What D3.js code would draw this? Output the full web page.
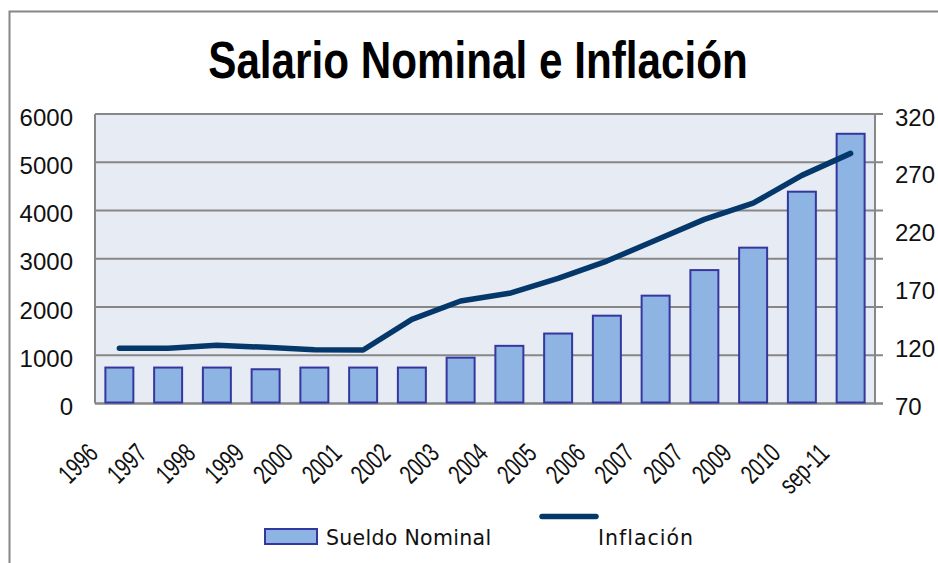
<!DOCTYPE html>
<html><head><meta charset="utf-8">
<script src="https://cdn.jsdelivr.net/npm/d3@7"></script>
<style>
html,body{margin:0;padding:0;background:#fff;}
svg{display:block;}
</style></head>
<body>
<svg id="chart" width="938" height="563"></svg>
<script>
const categories = ["1996","1997","1998","1999","2000","2001","2002","2003","2004","2005","2006","2007","2007","2009","2010","sep-11"];
const sueldoNominal = [745, 745, 745, 710, 745, 745, 745, 950, 1195, 1450, 1820, 2235, 2765, 3230, 4390, 5590];
const inflacion = [117.7, 117.7, 120.3, 118.5, 116.5, 116.2, 142.7, 158.5, 165.2, 178, 193, 211, 229, 243, 267, 286];
const leftTicks = [0, 1000, 2000, 3000, 4000, 5000, 6000];
const rightTicks = [70, 120, 170, 220, 270, 320];
const titleText = "Salario Nominal e Inflación";
const legendLabels = ["Sueldo Nominal", "Inflación"];

const svg = d3.select("#chart");
const W = 938, H = 563;
const m = {left: 95, right: 875, top: 114, bottom: 403.5};

function narrowAvailable(weight){
  const t = svg.append("text").attr("font-family","Liberation Sans Narrow").attr("font-weight",weight).attr("font-size",50).text(titleText);
  const t2 = svg.append("text").attr("font-family","Liberation Sans").attr("font-weight",weight).attr("font-size",50).text(titleText);
  const a = t.node().getComputedTextLength(), b = t2.node().getComputedTextLength();
  t.remove(); t2.remove();
  return a < b*0.9;
}
const hasNarrow = narrowAvailable("bold");
const NARROW = hasNarrow ? "'Liberation Sans Narrow', 'Arial Narrow', sans-serif" : "'Liberation Sans', Arial, sans-serif";
const narrowScale = hasNarrow ? 1 : 0.82;

// outer border
svg.append("path").attr("d", `M9.5,${H} L9.5,11.5 L${W},11.5`).attr("fill","none").attr("stroke","#878787").attr("stroke-width",2);

const x = d3.scaleBand().domain(d3.range(categories.length)).range([m.left, m.right]).paddingInner(0.426).paddingOuter(0.213);
const yL = d3.scaleLinear().domain([0, 6000]).range([m.bottom, m.top]);
const yR = d3.scaleLinear().domain([70, 320]).range([m.bottom, m.top]);

svg.append("rect").attr("x", m.left).attr("y", m.top).attr("width", m.right - m.left).attr("height", m.bottom - m.top).attr("fill", "#e7ebf3");

svg.append("g").selectAll("line").data(leftTicks).join("line")
  .attr("x1", m.left).attr("x2", m.right + 8)
  .attr("y1", d => yL(d)).attr("y2", d => yL(d))
  .attr("stroke", "#878787").attr("stroke-width", d => d === 0 ? 2.5 : 1.8);

svg.append("line").attr("x1", m.left).attr("x2", m.left).attr("y1", m.top).attr("y2", m.bottom).attr("stroke","#878787").attr("stroke-width",2);
svg.append("line").attr("x1", m.right).attr("x2", m.right).attr("y1", m.top).attr("y2", m.bottom+1).attr("stroke","#878787").attr("stroke-width",2);

svg.append("g").selectAll("rect").data(sueldoNominal).join("rect")
  .attr("x", (d,i) => x(i)).attr("width", x.bandwidth())
  .attr("y", d => yL(d)).attr("height", d => yL(0) - yL(d) - 1)
  .attr("fill", "#8eb4e3").attr("stroke", "#3537a0").attr("stroke-width", 2);

const line = d3.line().x((d,i) => x(i) + x.bandwidth()/2).y(d => yR(d));
svg.append("path").datum(inflacion).attr("d", line)
  .attr("fill","none").attr("stroke","#05386a").attr("stroke-width",5.5)
  .attr("stroke-linecap","round").attr("stroke-linejoin","round");

const leftAxis = d3.axisLeft(yL).tickValues(leftTicks).tickSize(0).tickPadding(0).tickFormat(d3.format("d"));
const gL = svg.append("g").attr("transform", `translate(73,0)`).call(leftAxis);
gL.select(".domain").remove();
gL.selectAll("text").attr("font-family","'Liberation Sans', Arial, sans-serif").attr("font-size",24).attr("fill","#111").attr("dy", 11);

const rightAxis = d3.axisRight(yR).tickValues(rightTicks).tickSize(0).tickPadding(0).tickFormat(d3.format("d"));
const gR = svg.append("g").attr("transform", `translate(895,0)`).call(rightAxis);
gR.select(".domain").remove();
gR.selectAll("text").attr("font-family","'Liberation Sans', Arial, sans-serif").attr("font-size",24).attr("fill","#111").attr("dy", 11);

svg.append("g").selectAll("text").data(categories).join("text")
  .attr("transform", (d,i) => `translate(${x(i) + x.bandwidth()/2 - 20},455) rotate(-45) scale(${0.86*narrowScale},1)`)
  .attr("text-anchor","end")
  .attr("font-family", NARROW).attr("font-size", 27).attr("fill","#111")
  .text(d => d);

svg.append("text").attr("transform", `translate(478,78) scale(${narrowScale},1)`).attr("text-anchor","middle")
  .attr("font-family", NARROW).attr("font-weight","bold").attr("font-size",51.5).attr("fill","#000")
  .text(titleText);

svg.append("rect").attr("x",265).attr("y",529).attr("width",52).attr("height",15).attr("fill","#8eb4e3").attr("stroke","#3537a0").attr("stroke-width",2);
svg.append("text").attr("x",326).attr("y",545).attr("font-family","'DejaVu Sans', sans-serif").attr("font-size",20.5).attr("fill","#111").attr("letter-spacing",0.3).text(legendLabels[0]);
svg.append("line").attr("x1",542).attr("x2",596).attr("y1",516.5).attr("y2",516.5).attr("stroke","#05386a").attr("stroke-width",5.5).attr("stroke-linecap","round");
svg.append("text").attr("x",598).attr("y",545).attr("font-family","'DejaVu Sans', sans-serif").attr("font-size",20.5).attr("fill","#111").attr("letter-spacing",1).text(legendLabels[1]);
</script>
</body></html>
